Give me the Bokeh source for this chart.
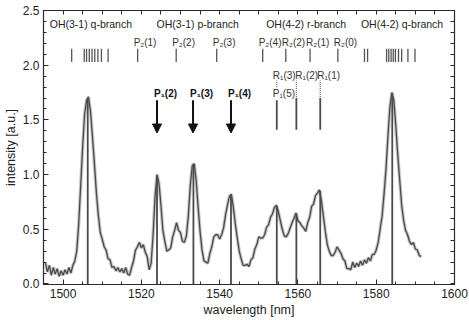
from bokeh.plotting import figure
from bokeh.models import (LinearAxis, Range1d, ColumnDataSource, Arrow, NormalHead,
                          SingleIntervalTicker, FixedTicker)
from bokeh.core.properties import value
from bokeh.embed import file_html
from bokeh.resources import INLINE

# ---- spectrum (0.5 nm sampling) ----
wl_start = 1495.5
intensity = [
    0.19, 0.11, 0.17, 0.08, 0.15, 0.09, 0.14, 0.07, 0.12, 0.08,   # 1495.5 - 1500.0
    0.13, 0.09, 0.15, 0.10, 0.17, 0.21, 0.30, 0.55, 0.90, 1.25,   # 1500.5 - 1505.0
    1.55, 1.68, 1.71, 1.58, 1.35, 1.10, 0.84, 0.63, 0.47, 0.41,   # 1505.5 - 1510.0
    0.34, 0.31, 0.23, 0.22, 0.15, 0.16, 0.12, 0.15, 0.11, 0.14,   # 1510.5 - 1515.0
    0.10, 0.15, 0.09, 0.08, 0.15, 0.21, 0.31, 0.34, 0.38, 0.33,   # 1515.5 - 1520.0
    0.36, 0.29, 0.25, 0.13, 0.19, 0.45, 0.80, 1.00, 0.92, 0.72,   # 1520.5 - 1525.0
    0.49, 0.39, 0.30, 0.31, 0.33, 0.43, 0.49, 0.56, 0.49, 0.47,   # 1525.5 - 1530.0
    0.39, 0.38, 0.44, 0.62, 0.90, 1.08, 1.10, 0.95, 0.70, 0.48,   # 1530.5 - 1535.0
    0.31, 0.21, 0.20, 0.19, 0.28, 0.34, 0.43, 0.45, 0.45, 0.41,   # 1535.5 - 1540.0
    0.45, 0.51, 0.63, 0.72, 0.80, 0.82, 0.70, 0.55, 0.42, 0.30,   # 1540.5 - 1545.0
    0.23, 0.17, 0.17, 0.18, 0.16, 0.22, 0.24, 0.32, 0.36, 0.43,   # 1545.5 - 1550.0
    0.42, 0.42, 0.45, 0.52, 0.54, 0.61, 0.64, 0.70, 0.72, 0.66,   # 1550.5 - 1555.0
    0.58, 0.50, 0.44, 0.43, 0.46, 0.51, 0.56, 0.60, 0.65, 0.58,   # 1555.5 - 1560.0
    0.56, 0.53, 0.51, 0.48, 0.56, 0.61, 0.71, 0.73, 0.81, 0.83,   # 1560.5 - 1565.0
    0.86, 0.76, 0.62, 0.48, 0.36, 0.30, 0.26, 0.26, 0.29, 0.34,   # 1565.5 - 1570.0
    0.31, 0.28, 0.23, 0.21, 0.14, 0.14, 0.13, 0.20, 0.15, 0.19,   # 1570.5 - 1575.0
    0.16, 0.21, 0.17, 0.22, 0.19, 0.24, 0.21, 0.27, 0.27, 0.31,   # 1575.5 - 1580.0
    0.38, 0.50, 0.62, 0.82, 1.05, 1.35, 1.62, 1.75, 1.68, 1.45,   # 1580.5 - 1585.0
    1.18, 0.95, 0.72, 0.58, 0.49, 0.45, 0.39, 0.36, 0.38, 0.32,   # 1585.5 - 1590.0
    0.31, 0.26, 0.25,                                             # 1590.5 - 1591.5
]
wavelength = [wl_start + 0.5 * i for i in range(len(intensity))]

# ---- assigned emission lines (vertical markers down to the axis) ----
line_pos = [1506.3, 1524.0, 1533.3, 1542.9, 1554.6, 1559.6, 1565.7, 1584.1]
line_top = [1.69, 0.99, 1.09, 0.81, 0.71, 0.64, 0.85, 1.74]

# ---- branch headers ----
branch_names = ["OH(3-1) q-branch", "OH(3-1) p-branch", "OH(4-2) r-branch", "OH(4-2) q-branch"]
branch_x = [1507.1, 1534.4, 1562.1, 1586.6]
branch_y = 2.38

# ---- line position ticks ----
q31_pos = [1502.2, 1505.4, 1506.0, 1506.7, 1507.4, 1508.1, 1508.9, 1509.8, 1511.5]
q42_pos = [1577.0, 1577.8, 1582.65, 1583.2, 1583.8, 1584.35, 1584.9, 1585.7, 1586.5, 1588.1, 1589.9]
pr2_labels = ["P\u2082(1)", "P\u2082(2)", "P\u2082(3)", "P\u2082(4)", "R\u2082(2)", "R\u2082(1)", "R\u2082(0)"]
pr2_pos = [1519.05, 1528.9, 1539.25, 1551.0, 1556.9, 1563.1, 1570.2]
tick_lo, tick_hi = 2.03, 2.15
pr2_label_y = 2.21

# ---- R1 / P1 annotations ----
r1_labels = ["R\u2081(3)", "R\u2081(2)", "R\u2081(1)"]
r1_pos = [1554.6, 1559.6, 1565.7]
r1_label_y = 1.91
p15_label = "P\u2081(5)"
p15_y = 1.74
dot_top = [1.86, 1.86, 1.86]
dot_bot = [1.80, 1.71, 1.71]
solid_top = [1.68, 1.70, 1.70]
solid_bot = [1.41, 1.41, 1.41]

# ---- arrows for P1 lines ----
p1_labels = ["P\u2081(2)", "P\u2081(3)", "P\u2081(4)"]
p1_pos = [1524.0, 1533.2, 1542.9]
p1_label_y = 1.74
arrow_start, arrow_end = 1.68, 1.38

# ---- axis ticks ----
x_major, x_minor_step = 20, 5
y_major, y_minor_step = 0.5, 0.1

FONT = "Liberation Sans"
INK = "#2a2a2a"

p = figure(width=469, height=320, output_backend="svg", toolbar_location=None,
           x_range=Range1d(1495, 1600), y_range=Range1d(-0.005, 2.5),
           min_border_left=38, min_border_right=15, min_border_top=10, min_border_bottom=36)
p.grid.visible = False
p.outline_line_color = INK
p.outline_line_width = 1.2
p.background_fill_color = "white"

# spectrum: soft halo under a darker trace
p.line(wavelength, intensity, line_color="#a0a0a0", line_width=3.4, line_alpha=0.6)
p.line(wavelength, intensity, line_color="#4a4a4a", line_width=1.3)

# vertical line markers
p.segment(x0=line_pos, y0=[0] * len(line_pos), x1=line_pos, y1=line_top,
          line_color="#4a4a4a", line_width=1.8)

# branch tick rows
all_ticks = q31_pos + pr2_pos + q42_pos
p.segment(x0=all_ticks, y0=[tick_lo] * len(all_ticks), x1=all_ticks, y1=[tick_hi] * len(all_ticks),
          line_color="#555555", line_width=1.3)

txt = dict(text_font=value(FONT), text_baseline="middle")
p.text(x=branch_x, y=[branch_y] * 4, text=branch_names, text_align="center",
       text_font_size="10.5px", text_color="#222222", **txt)
p.text(x=pr2_pos, y=[pr2_label_y] * len(pr2_pos), text=pr2_labels, text_align="left",
       x_offset=-4, text_font_size="10px", text_color="#333333", **txt)

# R1 / P1(5) group
p.text(x=r1_pos, y=[r1_label_y] * 3, text=r1_labels, text_align="left",
       x_offset=[-4, -1, -3], text_font_size="10px", text_color="#333333", **txt)
p.text(x=[r1_pos[0]], y=[p15_y], text=[p15_label], text_align="left",
       x_offset=-4, text_font_size="10px", text_color="#333333", **txt)
p.segment(x0=r1_pos, y0=dot_bot, x1=r1_pos, y1=dot_top, line_color="#666666",
          line_width=1.2, line_dash="1 1")
p.segment(x0=r1_pos, y0=solid_bot, x1=r1_pos, y1=solid_top, line_color="#4a4a4a",
          line_width=1.8)

# P1 arrows
p.text(x=p1_pos, y=[p1_label_y] * 3, text=p1_labels, text_align="left",
       x_offset=-3, text_font_size="10px", text_font_style="bold",
       text_color="#111111", **txt)
arrow_src = ColumnDataSource(dict(x0=p1_pos, y0=[arrow_start] * 3, x1=p1_pos, y1=[arrow_end] * 3))
p.add_layout(Arrow(end=NormalHead(size=9, fill_color="#111111", line_color="#111111"),
                   x_start="x0", y_start="y0", x_end="x1", y_end="y1", source=arrow_src,
                   line_color="#111111", line_width=2))

# axes: ticks point inward on all four sides
def style_axis(ax):
    ax.axis_line_color = INK
    ax.major_tick_line_color = INK
    ax.minor_tick_line_color = INK
    ax.major_tick_in = 5
    ax.major_tick_out = 0
    ax.minor_tick_in = 3
    ax.minor_tick_out = 0
    ax.major_label_text_font = FONT
    ax.major_label_text_font_size = "12px"
    ax.major_label_text_color = "#222222"
    ax.major_label_standoff = 4
    ax.axis_label_text_font = FONT
    ax.axis_label_text_font_size = "12.5px"
    ax.axis_label_text_font_style = "normal"
    ax.axis_label_text_color = "#222222"
    ax.axis_label_standoff = 2

p.xaxis.ticker = SingleIntervalTicker(interval=x_major, num_minor_ticks=4)
p.yaxis.ticker = SingleIntervalTicker(interval=y_major, num_minor_ticks=5)
p.xaxis.axis_label = "wavelength [nm]"
p.yaxis.axis_label = "intensity [a.u.]"
style_axis(p.xaxis[0])
style_axis(p.yaxis[0])
p.yaxis[0].major_label_overrides = {0: "0.0", 0.5: "0.5", 1: "1.0", 1.5: "1.5", 2: "2.0", 2.5: "2.5"}

# mirrored top/right axes carry tick marks only (no labels)
x_marks = [1495 + x_minor_step * i for i in range(22)]
y_marks = [round(y_minor_step * i, 2) for i in range(26)]
top_ax = LinearAxis(ticker=FixedTicker(ticks=[], minor_ticks=x_marks))
right_ax = LinearAxis(ticker=FixedTicker(ticks=[], minor_ticks=y_marks))
for ax in (top_ax, right_ax):
    style_axis(ax)
    ax.minor_tick_in = 4
p.add_layout(top_ax, "above")
p.add_layout(right_ax, "right")

open("out.html", "w").write(file_html(p, INLINE))
